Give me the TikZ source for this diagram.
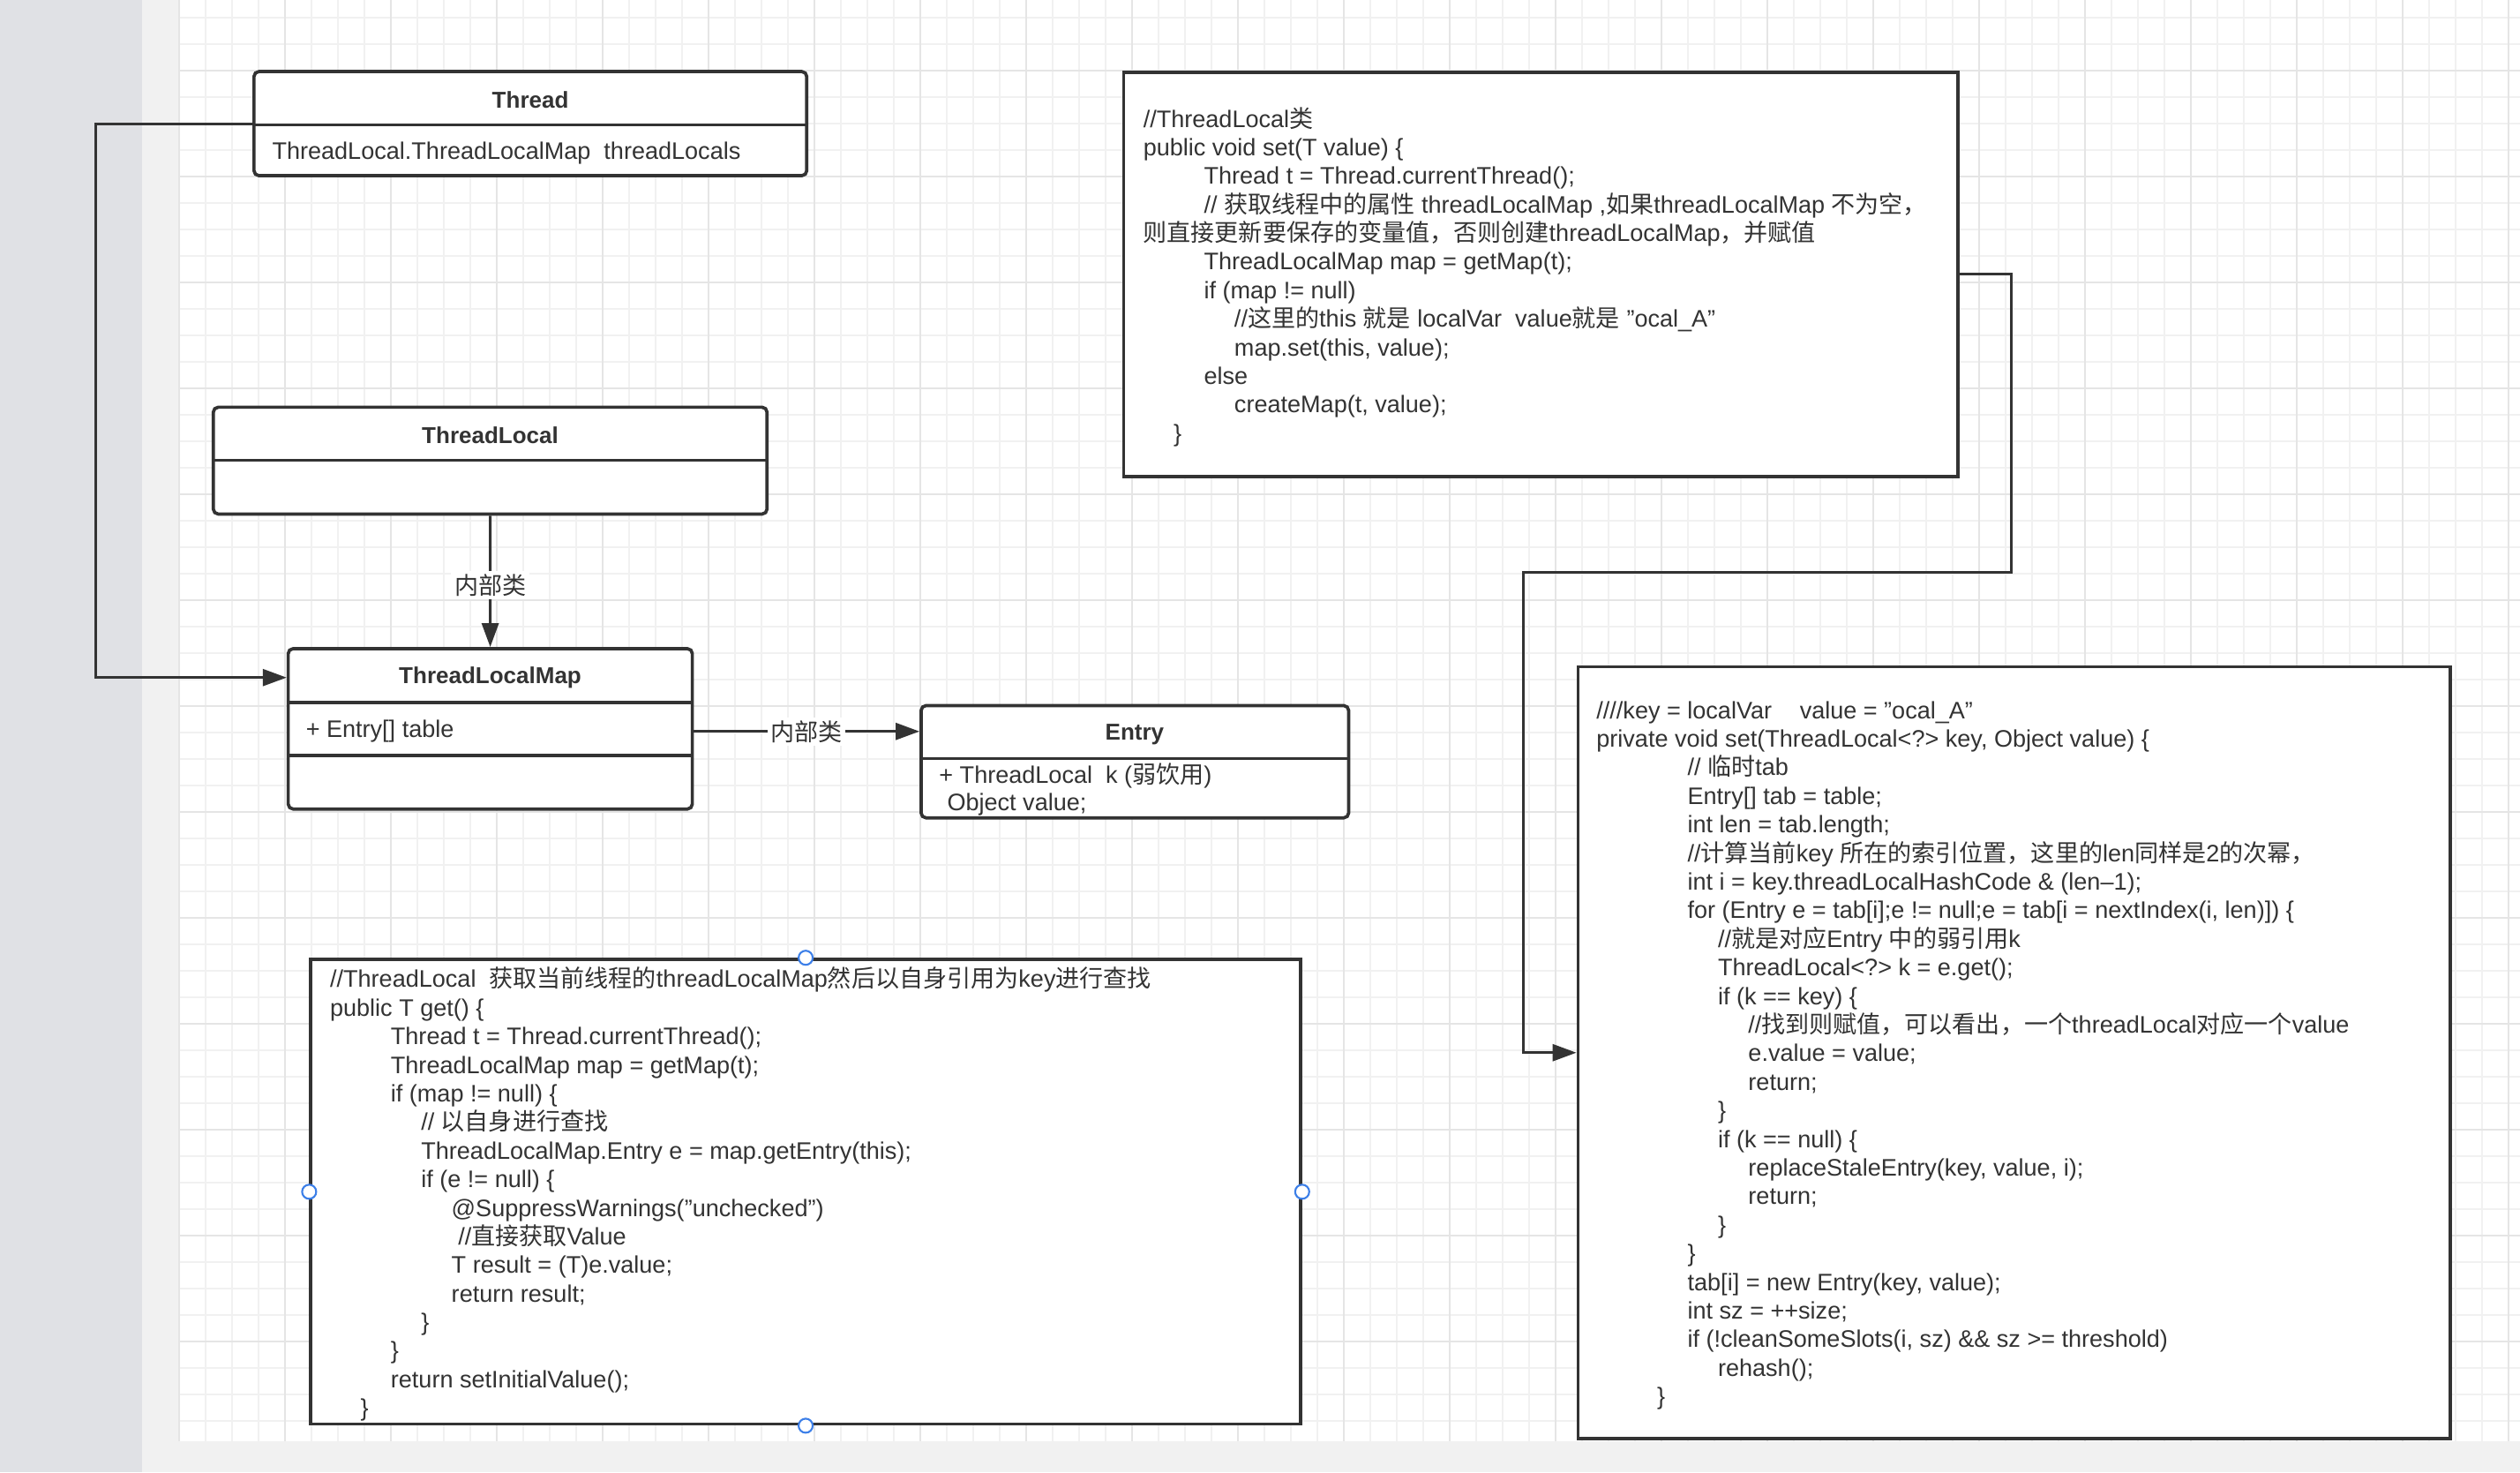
\documentclass[tikz,border=0pt]{standalone}
\usepackage{fontspec}
\setmainfont{Liberation Sans}
\newfontfamily\cjk{Noto Sans CJK SC}
\usetikzlibrary{arrows.meta}

\definecolor{ink}{HTML}{333333}
\definecolor{stripgray}{HTML}{E0E1E5}
\definecolor{panegray}{HTML}{F1F1F1}
\definecolor{gridminor}{HTML}{F1F1F1}
\definecolor{gridmajor}{HTML}{E5E5E5}
\definecolor{handleblue}{HTML}{3C7FE8}

\newlength\indw
\setlength\indw{0.3442cm}
\newcommand\zh[1]{{\cjk #1}}
\newcommand\ind[1]{\hspace*{#1\indw}}
\newcommand\codefont{\fontsize{7.7}{9.22}\selectfont}
\newcommand\titlefont{\fontsize{7.4}{9}\selectfont\bfseries}

\begin{document}
\begin{tikzpicture}[x=0.018214cm, y=-0.018214cm,
    klass/.style={draw=ink, line width=1.05pt, rounded corners=1.6pt, fill=white, inner sep=0pt},
    kline/.style={draw=ink, line width=1.05pt},
    ktitle/.style={font=\titlefont, text=ink, inner sep=0pt},
    kfield/.style={font=\codefont, text=ink, inner sep=0pt, anchor=west},
    codebox/.style={draw=ink, line width=1.05pt, fill=white, inner sep=0pt},
    codetext/.style={font=\codefont, text=ink, align=left, inner sep=0pt, anchor=west},
    conn/.style={draw=ink, line width=.85pt, -{Triangle[length=.27cm, width=.19cm]}},
    lbl/.style={fill=white, font=\codefont, text=ink, inner sep=1pt},
    handle/.style={draw=handleblue, fill=white, line width=.6pt}]
  \useasboundingbox (0,0) rectangle (1568,916);
  \fill[panegray] (0,0) rectangle (1568,916);
  \fill[white] (112,0) rectangle (1568,896.6);
  \fill[stripgray] (0,0) rectangle (88.4,916);
  % grid
  \foreach \i in {0,...,88}
    \draw[gridminor, line width=.4pt] ({111.5+16.47*\i},0) -- ++(0,896.6);
  \foreach \i in {0,...,53}
    \draw[gridminor, line width=.4pt] (112,{11+16.47*\i}) -- (1568,{11+16.47*\i});
  \foreach \i in {0,...,22}
    \draw[gridmajor, line width=.6pt] ({111.5+65.88*\i},0) -- ++(0,896.6);
  \foreach \i in {0,...,12}
    \draw[gridmajor, line width=.6pt] (112,{43.9+65.88*\i}) -- (1568,{43.9+65.88*\i});

  % Thread
  \node[klass, minimum width=6.266cm, minimum height=1.180cm] (thread) at (330,76.9) {};
  \node[ktitle] (thread-t) at (330,62.3) {Thread};
  \draw[kline] (thread.west |- 0,77.7) -- (thread.east |- 0,77.7);
  \node[kfield] (thread-f) at (169,95) {ThreadLocal.ThreadLocalMap\ \ threadLocals};

  % ThreadLocal
  \node[klass, minimum width=6.277cm, minimum height=1.211cm] (tlocal) at (305,286.55) {};
  \node[ktitle] (tlocal-t) at (305,271) {ThreadLocal};
  \draw[kline] (tlocal.west |- 0,286.4) -- (tlocal.east |- 0,286.4);

  % ThreadLocalMap
  \node[klass, minimum width=4.581cm, minimum height=1.818cm] (tmap) at (305.05,453.4) {};
  \node[ktitle] (tmap-t) at (305,421.5) {ThreadLocalMap};
  \draw[kline] (tmap.west |- 0,437) -- (tmap.east |- 0,437);
  \draw[kline] (tmap.west |- 0,470) -- (tmap.east |- 0,470);
  \node[kfield] (tmap-f) at (190,455) {+ Entry[] table};

  % Entry
  \node[klass, minimum width=4.847cm, minimum height=1.273cm] (entry) at (706.15,473.85) {};
  \node[ktitle] (entry-t) at (706,457) {Entry};
  \draw[kline] (entry.west |- 0,471.8) -- (entry.east |- 0,471.8);
  \node[kfield] (entry-k) at (584,482.5) {+ ThreadLocal\ \ k (\zh{弱饮用})};
  \node[kfield] (entry-v) at (589,500.5) {Object value;};

  % ThreadLocal.set
  \node[codebox, minimum width=9.459cm, minimum height=4.584cm] (setbox) at (958.75,170.65) {};
  \node[codetext] (settext) at (711,172.2) {%
    //ThreadLocal\zh{类}\\
    public void set(T value) \{\\
    \ind{2}Thread t = Thread.currentThread();\\
    \ind{2}// \zh{获取线程中的属性} threadLocalMap ,\zh{如果}threadLocalMap \zh{不为空，}\\
    \zh{则直接更新要保存的变量值，否则创建}threadLocalMap\zh{，并赋值}\\
    \ind{2}ThreadLocalMap map = getMap(t);\\
    \ind{2}if (map != null)\\
    \ind{3}//\zh{这里的}this \zh{就是} localVar\ \ value\zh{就是} ”ocal\_A”\\
    \ind{3}map.set(this, value);\\
    \ind{2}else\\
    \ind{3}createMap(t, value);\\
    \ind{1}\}};

  % ThreadLocal.get
  \node[codebox, minimum width=11.220cm, minimum height=5.266cm] (getbox) at (501.3,741.35) {};
  \node[codetext] (gettext) at (205,742.9) {%
    //ThreadLocal\ \ \zh{获取当前线程的}threadLocalMap\zh{然后以自身引用为}key\zh{进行查找}\\
    public T get() \{\\
    \ind{2}Thread t = Thread.currentThread();\\
    \ind{2}ThreadLocalMap map = getMap(t);\\
    \ind{2}if (map != null) \{\\
    \ind{3}// \zh{以自身进行查找}\\
    \ind{3}ThreadLocalMap.Entry e = map.getEntry(this);\\
    \ind{3}if (e != null) \{\\
    \ind{4}@SuppressWarnings("unchecked")\\
    \ind{4}\ //\zh{直接获取}Value\\
    \ind{4}T result = (T)e.value;\\
    \ind{4}return result;\\
    \ind{3}\}\\
    \ind{2}\}\\
    \ind{2}return setInitialValue();\\
    \ind{1}\}};
  \foreach \a in {north,south,east,west}
    \draw[handle] (getbox.\a) circle (.08cm);

  % ThreadLocalMap.set
  \node[codebox, minimum width=9.888cm, minimum height=8.748cm] (mapset) at (1253.25,654.85) {};
  \node[codetext] (maptext) at (993,656.6) {%
    ////key = localVar\hspace{9pt}value = ”ocal\_A”\\
    private void set(ThreadLocal<?> key, Object value) \{\\
    \ind{3}// \zh{临时}tab\\
    \ind{3}Entry[] tab = table;\\
    \ind{3}int len = tab.length;\\
    \ind{3}//\zh{计算当前}key \zh{所在的索引位置，这里的}len\zh{同样是}2\zh{的次幂，}\\
    \ind{3}int i = key.threadLocalHashCode \& (len--1);\\
    \ind{3}for (Entry e = tab[i];e != null;e = tab[i = nextIndex(i, len)]) \{\\
    \ind{4}//\zh{就是对应}Entry \zh{中的弱引用}k\\
    \ind{4}ThreadLocal<?> k = e.get();\\
    \ind{4}if (k == key) \{\\
    \ind{5}//\zh{找到则赋值，可以看出，一个}threadLocal\zh{对应一个}value\\
    \ind{5}e.value = value;\\
    \ind{5}return;\\
    \ind{4}\}\\
    \ind{4}if (k == null) \{\\
    \ind{5}replaceStaleEntry(key, value, i);\\
    \ind{5}return;\\
    \ind{4}\}\\
    \ind{3}\}\\
    \ind{3}tab[i] = new Entry(key, value);\\
    \ind{3}int sz = ++size;\\
    \ind{3}if (!cleanSomeSlots(i, sz) \&\& sz >= threshold)\\
    \ind{4}rehash();\\
    \ind{2}\}};

  % connectors
  \draw[conn] (thread.west) -- ++(-97.5,0) |- (tmap.west |- tmap-t);
  \draw[conn] (tlocal) -- node[lbl, pos=.53] (lbl-a) {\zh{内部类}} (tmap);
  \draw[conn] (tmap.east |- tmap-f) -- node[lbl] (lbl-b) {\zh{内部类}} (entry.west |- tmap-f);
  \coordinate (turn) at (948,356);
  \draw[conn] (setbox.east) -- ++(32,0) |- (turn) |- (mapset.west);
\end{tikzpicture}
\end{document}
